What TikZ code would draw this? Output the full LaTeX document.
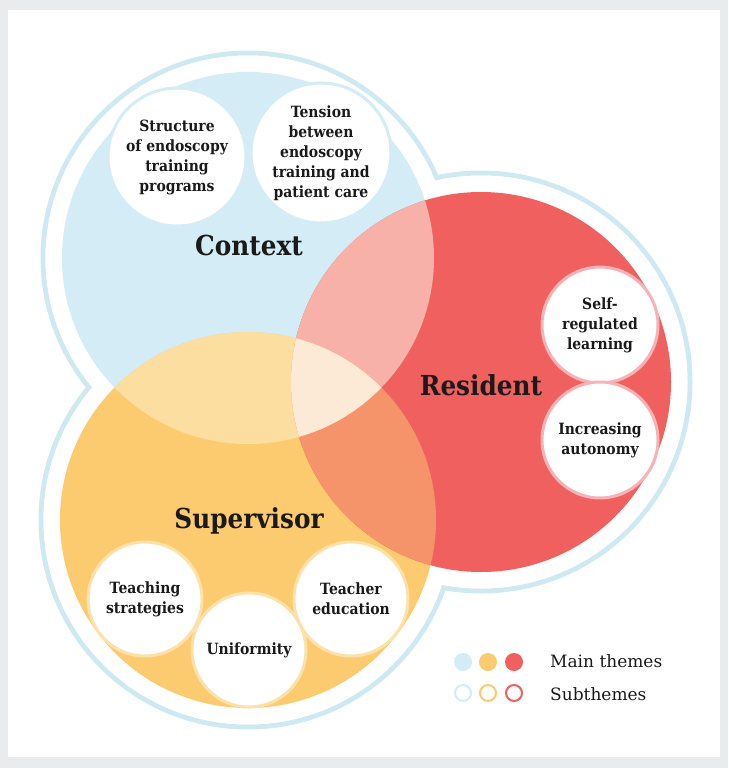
\documentclass[tikz,border=0pt]{standalone}
\usepackage{fontspec}
\setmainfont{DejaVu Serif}[FakeStretch=0.9]
\newfontfamily\legfont{DejaVu Serif}
\definecolor{frame}{HTML}{E9EBED}
\definecolor{cB}{HTML}{D3ECF5}
\definecolor{cY}{HTML}{FDCB6F}
\definecolor{cR}{HTML}{F0605F}
\definecolor{cBR}{HTML}{F7B1A9}
\definecolor{cBY}{HTML}{FDDEA1}
\definecolor{cYR}{HTML}{F5946A}
\definecolor{cT}{HTML}{FDEAD6}
\definecolor{outl}{HTML}{CFE9F3}
\definecolor{yedge}{HTML}{FCE2AA}
\definecolor{redge}{HTML}{F6B2B6}
\definecolor{ink}{HTML}{1A1A1A}
\begin{document}
\begin{tikzpicture}[x=1pt,y=-1pt,
  subc/.style={circle, fill=white, line width=3pt, align=center, inner sep=0pt,
    font=\fontsize{15.5}{20}\selectfont\bfseries, text=ink},
  mainlab/.style={font=\fontsize{27.5}{30}\selectfont\bfseries, text=ink, inner sep=0pt},
  leglab/.style={font=\legfont\fontsize{17}{20}\selectfont, text=ink, inner sep=0pt, anchor=base west},
  outring/.style={draw=outl, line width=5pt}]
\useasboundingbox (0,0) rectangle (728,768);
\fill[frame] (0,0) rectangle (728,768);
\fill[white] (8,10) rectangle (720,757);
\coordinate (B) at (248,258);
\coordinate (Y) at (248,520);
\coordinate (R) at (481,382);
% outer outline of union
\draw[outring] (B) circle (205pt);
\draw[outring] (Y) circle (207pt);
\draw[outring] (R) circle (209pt);
\fill[white] (B) circle (202.5pt);
\fill[white] (Y) circle (204.5pt);
\fill[white] (R) circle (206.5pt);
% main circles
\fill[cB] (B) circle (186pt);
\fill[cY] (Y) circle (188pt);
\fill[cR] (R) circle (190pt);
\begin{scope}\clip (B) circle (186pt); \fill[cBR] (R) circle (190pt); \end{scope}
\begin{scope}\clip (B) circle (186pt); \fill[cBY] (Y) circle (188pt); \end{scope}
\begin{scope}\clip (Y) circle (188pt); \fill[cYR] (R) circle (190pt); \end{scope}
\begin{scope}\clip (B) circle (186pt); \clip (Y) circle (188pt); \fill[cT] (R) circle (190pt); \end{scope}
% subthemes
\node[subc, draw=cB, minimum size=138pt] (s1) at (177,157) {Structure\\of endoscopy\\training\\programs};
\node[subc, draw=cB, minimum size=140pt] (s2) at (321,153) {Tension\\between\\endoscopy\\training and\\patient care};
\node[subc, draw=redge, minimum size=116pt] (s3) at (600,325) {Self-\\regulated\\learning};
\node[subc, draw=redge, minimum size=116pt] (s4) at (600,440) {Increasing\\autonomy};
\node[subc, draw=yedge, minimum size=114pt] (s5) at (145,599) {Teaching\\strategies};
\node[subc, draw=yedge, minimum size=114pt] (s6) at (249,650) {Uniformity};
\node[subc, draw=yedge, minimum size=114pt] (s7) at (351,599) {Teacher\\education};
% main labels
\node[mainlab] (ctx) at (249,245) {Context};
\node[mainlab] (res) at (481,385) {Resident};
\node[mainlab] (sup) at (249,521) {Supervisor};
% legend
\fill[cB] (463,662) circle (9pt);
\fill[cY] (488,662) circle (9pt);
\fill[cR] (514,662) circle (9pt);
\draw[cB, line width=2pt] (463,693) circle (8pt);
\draw[cY, line width=2pt] (488,693) circle (8pt);
\draw[cR, line width=2pt] (514,693) circle (8pt);
\node[leglab] (l1) at (550,667) {Main themes};
\node[leglab] (l2) at (550,700) {Subthemes};
\end{tikzpicture}
\end{document}
